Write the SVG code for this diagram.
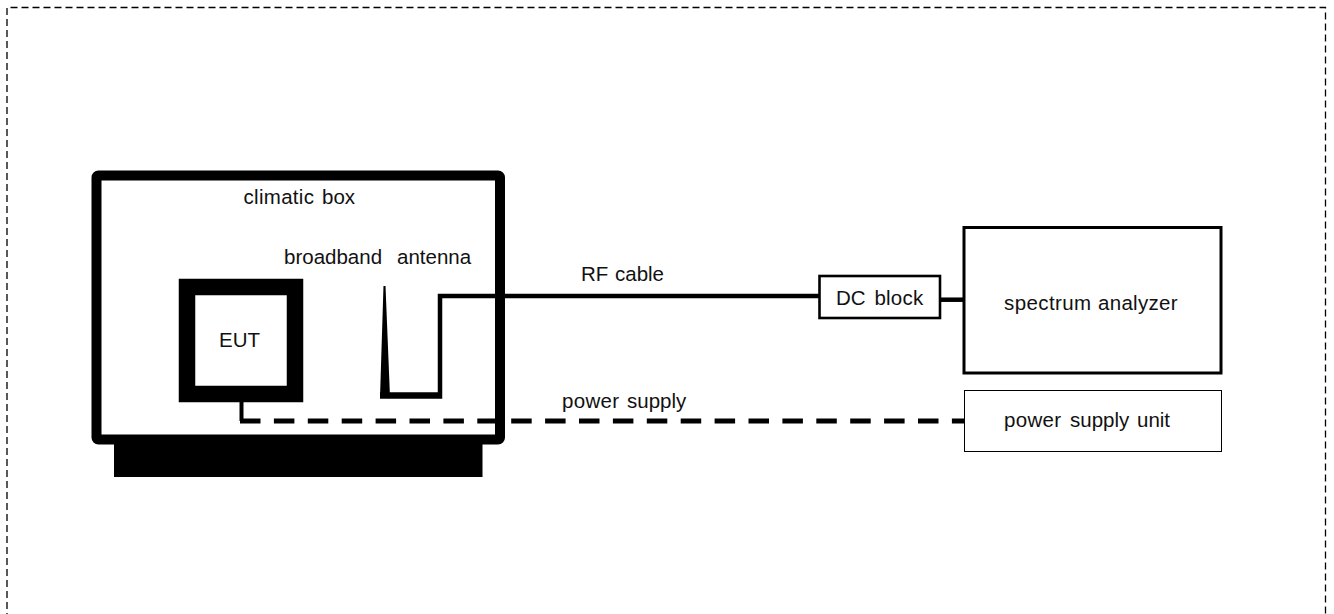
<svg xmlns="http://www.w3.org/2000/svg" width="1334" height="614" viewBox="0 0 1334 614">
<style>
text{font-family:"Liberation Sans",Arial,sans-serif;font-size:20.500px;fill:#111;stroke:none}
.box{fill:#fff;stroke:#000}
.line{fill:none;stroke:#000}
</style>
<rect width="1334" height="614" fill="#fff"/>
<path id="frame" d="M7 620V7.500H1325.500V620" fill="none" stroke="#000" stroke-width="1.300" stroke-dasharray="7 4"/>
<g id="climatic-box">
<rect x="114" y="435" width="368.500" height="42" fill="#000"/>
<rect class="box" x="96.500" y="175.500" width="403.500" height="264" rx="2" stroke-width="10"/>
<text y="204"><tspan x="243.500" letter-spacing="0.300">climatic</tspan> <tspan x="322">box</tspan></text>
</g>
<g id="eut">
<rect class="box" x="187" y="287" width="108" height="107" stroke-width="16.500"/>
<text x="219" y="347">EUT</text>
</g>
<g id="antenna">
<path d="M383.500 286H385.500L390 397H380Z" fill="#000"/>
<text x="284" y="264">broadband</text>
<text x="397" y="264">antenna</text>
</g>
<g id="connectors">
<path class="line" d="M380 395.500H438" stroke-width="6.500"/>
<path class="line" d="M440 398.700V296H820" stroke-width="4.500"/>
<path class="line" d="M941 299.700H964" stroke-width="4.500"/>
<path class="line" d="M241.500 402V421" stroke-width="4"/>
<path class="line" d="M240 421H966" stroke-width="5" stroke-dasharray="20.500 13.400"/>
</g>
<g id="dc-block">
<rect class="box" x="819.500" y="276" width="120.500" height="42" stroke-width="2.600"/>
<text y="305"><tspan x="836">DC</tspan> <tspan x="874.500" letter-spacing="0.200">block</tspan></text>
</g>
<g id="spectrum-analyzer">
<rect class="box" x="964" y="227.500" width="257" height="145.500" stroke-width="3"/>
<text y="309.500"><tspan x="1004" letter-spacing="0.400">spectrum</tspan> <tspan x="1098" letter-spacing="0.300">analyzer</tspan></text>
</g>
<g id="power-supply-unit">
<rect class="box" x="964.500" y="390.500" width="257" height="61" stroke-width="1"/>
<text y="427"><tspan x="1004" letter-spacing="0.300">power</tspan> <tspan x="1070">supply</tspan> <tspan x="1137">unit</tspan></text>
</g>
<text y="281"><tspan x="581">RF</tspan> <tspan x="615">cable</tspan></text>
<text y="408"><tspan x="562" letter-spacing="0.300">power</tspan> <tspan x="627">supply</tspan></text>
</svg>
